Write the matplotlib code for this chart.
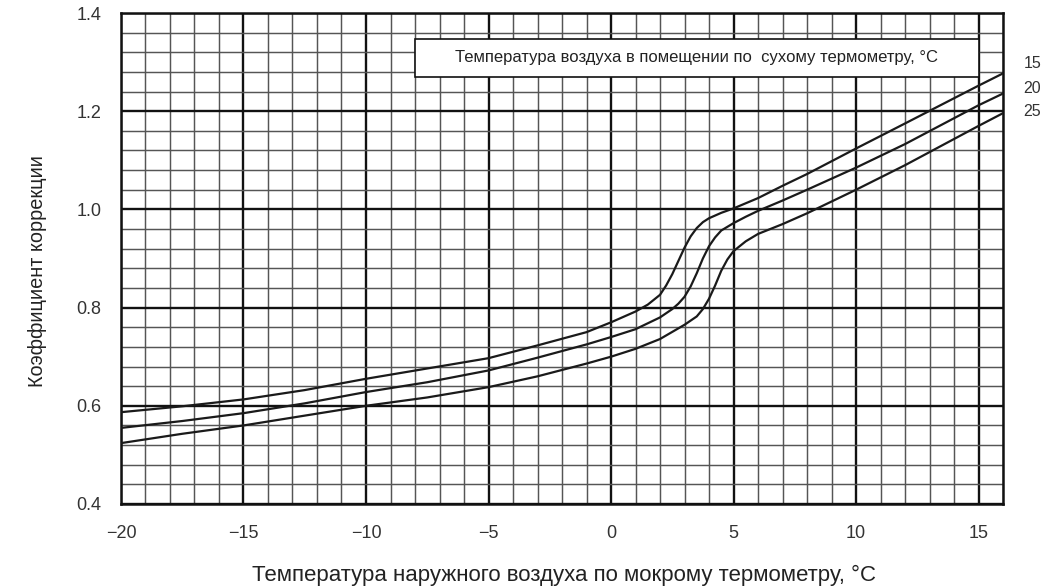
import matplotlib
matplotlib.use("Agg")
import matplotlib.pyplot as plt
from matplotlib.ticker import MultipleLocator, FixedLocator
from matplotlib.patches import Rectangle

# ---- data ----
x_t = [-20, -17.5, -15, -12.5, -10, -7.5, -5, -3, -1, 0, 1, 1.5, 2, 2.25, 2.5, 2.75, 3, 3.25, 3.5,
       3.75, 4, 4.5, 5, 6, 7, 8, 10, 12, 15, 16]
y15 = [0.587, 0.599, 0.613, 0.632, 0.655, 0.676, 0.697, 0.723, 0.750, 0.770, 0.792, 0.806, 0.826,
       0.845, 0.868, 0.895, 0.922, 0.945, 0.962, 0.974, 0.982, 0.993, 1.002, 1.023, 1.048, 1.072,
       1.124, 1.175, 1.252, 1.277]

x_m = [-20, -17.5, -15, -12.5, -10, -7.5, -5, -3, -1, 0, 1, 2, 2.5, 2.75, 3, 3.25, 3.5, 3.75, 4,
       4.25, 4.5, 5, 5.5, 6, 7, 8, 10, 12, 15, 16]
y20 = [0.555, 0.569, 0.585, 0.605, 0.628, 0.648, 0.672, 0.698, 0.725, 0.740, 0.756, 0.780, 0.797,
       0.808, 0.822, 0.843, 0.870, 0.900, 0.925, 0.943, 0.957, 0.972, 0.985, 0.997, 1.018, 1.040,
       1.085, 1.133, 1.212, 1.236]

x_b = [-20, -17.5, -15, -12.5, -10, -7.5, -5, -3, -1, 0, 1, 2, 3, 3.5, 3.75, 4, 4.25, 4.5, 4.75,
       5, 5.5, 6, 7, 8, 10, 12, 15, 16]
y25 = [0.524, 0.543, 0.560, 0.580, 0.600, 0.617, 0.638, 0.660, 0.686, 0.700, 0.716, 0.736, 0.765,
       0.782, 0.797, 0.818, 0.845, 0.875, 0.898, 0.915, 0.935, 0.950, 0.970, 0.992, 1.040, 1.090,
       1.170, 1.196]

series_labels = ["15", "20", "25"]
x_ticks = [-20, -15, -10, -5, 0, 5, 10, 15]
y_ticks = [0.4, 0.6, 0.8, 1.0, 1.2, 1.4]
y_ticklabels = ["0.4", "0.6", "0.8", "1.0", "1.2", "1.4"]

xlabel = "Температура наружного воздуха по мокрому термометру, °C"
ylabel = "Коэффициент коррекции"
box_text = "Температура воздуха в помещении по  сухому термометру, °C"

plt.rcParams['font.family'] = ['Liberation Sans', 'DejaVu Sans']
narrow = ['Liberation Sans Narrow', 'Liberation Sans', 'DejaVu Sans']

W, H = 1060, 588
fig = plt.figure(figsize=(W / 100, H / 100), dpi=100)
L, R, T, B = 121, 1003, 13, 504
ax = fig.add_axes([L / W, 1 - B / H, (R - L) / W, (B - T) / H])

ax.set_xlim(-20, 16)
ax.set_ylim(0.4, 1.4)

ax.xaxis.set_major_locator(FixedLocator(x_ticks))
ax.xaxis.set_minor_locator(MultipleLocator(1))
ax.yaxis.set_major_locator(FixedLocator(y_ticks))
ax.yaxis.set_minor_locator(MultipleLocator(0.04))
ax.set_yticklabels(y_ticklabels)

ax.set_axisbelow(True)
ax.grid(which='minor', color='#555555', lw=1.05)
ax.grid(which='major', color='#111111', lw=1.7)

ax.tick_params(which='both', length=0)
ax.tick_params(axis='x', pad=15, labelsize=13, labelcolor='#333333')
ax.tick_params(axis='y', pad=14, labelsize=13, labelcolor='#333333')

for s in ax.spines.values():
    s.set_linewidth(1.8)
    s.set_color('#111111')

for xs, ys in [(x_t, y15), (x_m, y20), (x_b, y25)]:
    ax.plot(xs, ys, color='#1a1a1a', lw=1.6, solid_joinstyle='round',
            solid_capstyle='round', zorder=3)

# legend/title box
ax.add_patch(Rectangle((-8.0, 1.27), 23.0, 0.077, facecolor='white',
                       edgecolor='#111111', lw=1.2, zorder=4))
ax.text(3.5, 1.3085, box_text, ha='center', va='center', fontsize=12,
        family=narrow, color='#222222', zorder=5)

# curve labels at right
for lab, yy in zip(series_labels, [1.298, 1.247, 1.200]):
    ax.text(17.2, yy, lab, ha='center', va='center', fontsize=11.5,
            family=narrow, color='#333333', clip_on=False)

fig.text(564 / W, 1 - 575 / H, xlabel, ha='center', va='center',
         fontsize=16, color='#222222')
fig.text(38 / W, 1 - 271 / H, ylabel, ha='center', va='center', rotation=90,
         fontsize=14.3, color='#222222')

fig.savefig('out.png', dpi=100, facecolor='white')
